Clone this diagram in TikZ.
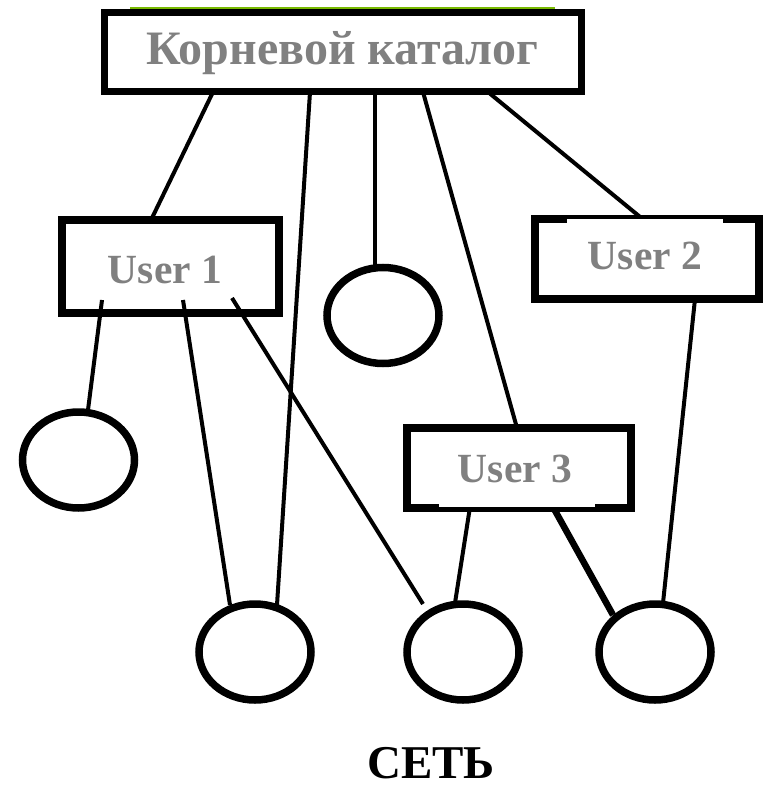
\documentclass[tikz,border=0pt]{standalone}
\usepackage{fontspec}
\setmainfont{Liberation Serif}
\usetikzlibrary{shapes.geometric}
\definecolor{labelgray}{RGB}{128,128,128}
\definecolor{topgreen}{RGB}{120,185,0}
\begin{document}
\begin{tikzpicture}[x=1pt,y=-1pt,
  catbox/.style={draw=black,rectangle,inner sep=0pt,line width=8pt,fill=white},
  fileoval/.style={draw=black,ellipse,inner sep=0pt,line width=7.5pt,
    minimum width=112pt,minimum height=96pt},
  link/.style={line width=4pt},
  heavylink/.style={line width=6.5pt},
  boxtext/.style={anchor=base,inner sep=0pt,text=labelgray,font=\bfseries\fontsize{41.5}{48}\selectfont},
  bigtext/.style={anchor=base,inner sep=0pt,font=\bfseries\fontsize{48}{56}\selectfont}]
\useasboundingbox (0,0) rectangle (767,789);

% thin green rule above the root box
\draw[topgreen,line width=2.5pt] (130,8) -- (555,8);

% directory boxes
\node[catbox,line width=7pt,minimum width=477pt,minimum height=79pt] (root) at (343,52) {};
\node[catbox,minimum width=217pt,minimum height=93pt] (u1) at (170.5,266.5) {};
\node[catbox,minimum width=224pt,minimum height=80pt] (u2) at (647,259) {};
\node[catbox,minimum width=224pt,minimum height=80pt] (u3) at (519,468) {};

% files
\node[fileoval] (fl) at (78.5,460) {};
\node[fileoval] (fm) at (383,315.5) {};
\node[fileoval] (f1) at (255,652) {};
\node[fileoval] (f2) at (463,652) {};
\node[fileoval] (f3) at (655,652) {};

% links from the root directory
\draw[link] ([shift={(-130,40)}]root.center) -- ([shift={(-18.5,-48.5)}]u1.center);
\draw[link] ([shift={(-33,40)}]root.center) -- ([shift={(22,-47)}]f1.center);
\draw[link] ([shift={(32,40)}]root.center) -- ([shift={(-8,-49.5)}]fm.center);
\draw[link] ([shift={(80,40)}]root.center) -- ([shift={(-2,-40)}]u3.center);
\draw[link] ([shift={(145,40)}]root.center) -- ([shift={(-2,-38)}]u2.center);

% links from User 1
\draw[link] ([shift={(-68.5,33.5)}]u1.center) -- ([shift={(9.5,-50)}]fl.center);
\draw[link] ([shift={(12.5,33.5)}]u1.center) -- ([shift={(-25,-47)}]f1.center);
\draw[link] ([shift={(61.5,31.5)}]u1.center) -- ([shift={(-40,-48)}]f2.center);

% links from User 2 and User 3
\draw[link] ([shift={(48,40)}]u2.center) -- ([shift={(8,-49)}]f3.center);
\draw[link] ([shift={(-49,39)}]u3.center) -- ([shift={(-8,-49)}]f2.center);
\draw[heavylink] ([shift={(34,39)}]u3.center) -- ([shift={(-42,-37)}]f3.center);

% thin spots in the box borders
\fill[white] ([shift={(-80,-40)}]u2.center) rectangle ([shift={(76,-36)}]u2.center);
\fill[white] ([shift={(-80,35)}]u3.center) rectangle ([shift={(76,39)}]u3.center);

% labels
\node[bigtext,text=labelgray] (roottext) at (342.5,65) {Корневой каталог};
\node[boxtext] (u1text) at (165,283) {User 1};
\node[boxtext] (u2text) at (645,269) {User 2};
\node[boxtext] (u3text) at (515,482) {User 3};
\node[bigtext,font=\bfseries\fontsize{47}{56}\selectfont] (net) at (431,778) {СЕТЬ};
\end{tikzpicture}
\end{document}
